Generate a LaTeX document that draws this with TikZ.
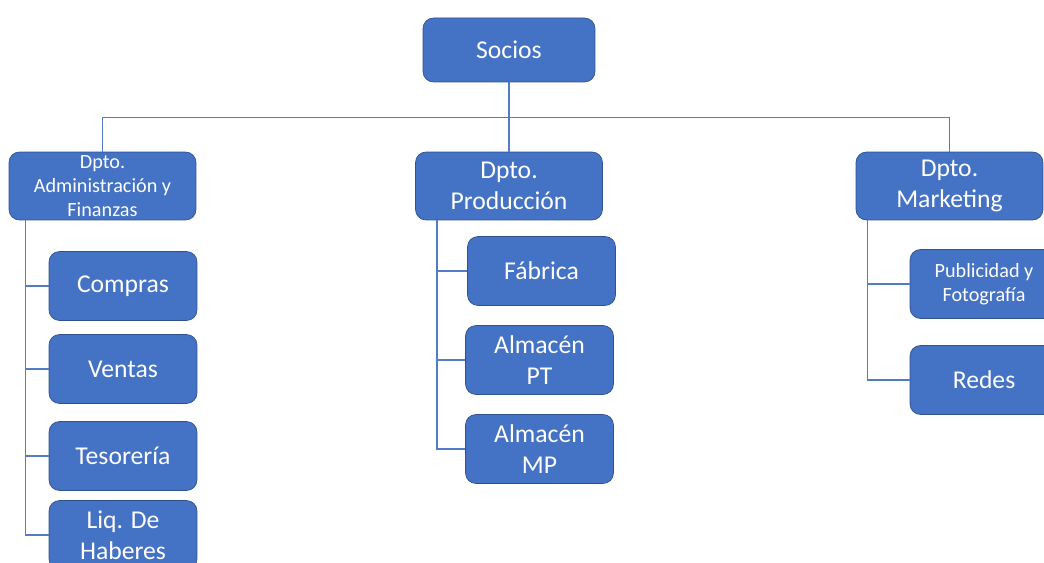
\documentclass[tikz,border=0pt]{standalone}
\usepackage{fontspec}
\setmainfont{Carlito}
\usepackage{tikz}
\usepackage{xcolor}
\usetikzlibrary{positioning,calc}
\definecolor{boxblue}{RGB}{68,114,196}
\definecolor{boxedge}{RGB}{47,82,143}
\definecolor{linkblue}{RGB}{82,124,200}

\begin{document}
\begin{tikzpicture}[x=0.02cm,y=-0.02cm,
    unit/.style={draw=boxedge,fill=boxblue,rounded corners=6pt,text=white,
        align=center,inner sep=1pt,font=\fontsize{14.6}{17.6}\selectfont},
    dept/.style={unit,minimum width=3.74cm,minimum height=1.36cm},
    sub/.style={unit,minimum width=2.96cm,minimum height=1.38cm},
    small/.style={font=\fontsize{11.5}{13.6}\selectfont},
    link/.style={draw=linkblue,line width=0.9pt}]
    \clip (0,0) rectangle (1044,563);
    \useasboundingbox (0,0) rectangle (1044,563);

    % Top level
    \node[unit,minimum width=3.44cm,minimum height=1.28cm] (socios) at (509,50) {Socios};

    % Departments
    \node[dept,small] (adm) at (102.5,186) {Dpto.\\Administración y\\Finanzas};
    \node[dept] (prod) at (509,186) {Dpto.\\Producción};
    \node[dept] (mkt) at (949.5,186) {Dpto.\\Marketing};

    \draw[link] (socios) -- (prod);
    \draw[link] (adm.north) -- ++(0,-34) -| (mkt.north);

    % Administracion y Finanzas
    \node[sub] (compras) at (123,286) {Compras};
    \node[sub] (ventas) at (123,369) {Ventas};
    \node[sub] (tesoreria) at (123,456) {Tesorería};
    \node[sub] (liq) at (123,535) {Liq. De\\Haberes};
    \coordinate (admtop) at ($(adm.south west)+(17,0)$);
    \draw[link] (admtop) |- (liq.west);
    \foreach \n in {compras,ventas,tesoreria}
        \draw[link] (admtop |- \n.west) -- (\n.west);

    % Produccion
    \node[sub] (fabrica) at (541.5,271) {Fábrica};
    \node[sub] (almpt) at (539.5,360) {Almacén\\PT};
    \node[sub] (almmp) at (539.5,449) {Almacén\\MP};
    \coordinate (prodtop) at ($(prod.south west)+(22,0)$);
    \draw[link] (prodtop) |- (almmp.west);
    \foreach \n in {fabrica,almpt}
        \draw[link] (prodtop |- \n.west) -- (\n.west);

    % Marketing
    \node[sub,small] (publi) at (984,284) {Publicidad y\\Fotografía};
    \node[sub] (redes) at (984,380) {Redes};
    \coordinate (mkttop) at ($(mkt.south west)+(12,0)$);
    \draw[link] (mkttop) |- (redes.west);
    \draw[link] (mkttop |- publi.west) -- (publi.west);
\end{tikzpicture}
\end{document}
